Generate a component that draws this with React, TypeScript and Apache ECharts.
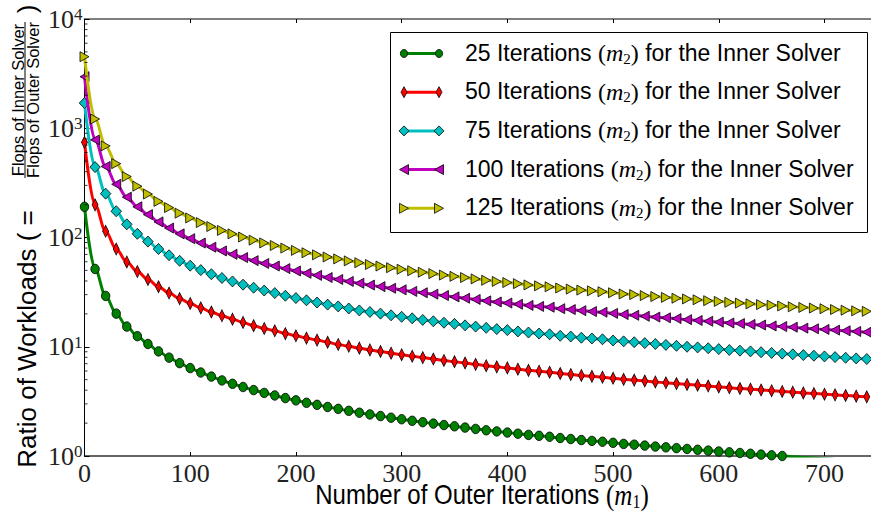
import React, { useEffect, useRef } from "react";
import * as echarts from "echarts";

const M1 = [0, 10, 20, 30, 40, 50, 60, 70, 80, 90, 100, 110, 120, 130, 140, 150, 160, 170, 180, 190, 200, 210, 220, 230, 240, 250, 260, 270, 280, 290, 300, 310, 320, 330, 340, 350, 360, 370, 380, 390, 400, 410, 420, 430, 440, 450, 460, 470, 480, 490, 500, 510, 520, 530, 540, 550, 560, 570, 580, 590, 600, 610, 620, 630, 640, 650, 660, 670, 680, 690, 700, 710, 720, 730, 740];

const S25 = [191, 51.5, 29.2, 20.1, 15.3, 12.5, 10.6, 9.07, 7.95, 7.08, 6.38, 5.81, 5.33, 4.92, 4.58, 4.28, 4.01, 3.78, 3.58, 3.39, 3.23, 3.07, 2.94, 2.81, 2.7, 2.59, 2.49, 2.4, 2.32, 2.24, 2.17, 2.1, 2.04, 1.98, 1.92, 1.87, 1.82, 1.77, 1.72, 1.68, 1.64, 1.6, 1.56, 1.53, 1.5, 1.46, 1.43, 1.4, 1.375, 1.35, 1.32, 1.29, 1.27, 1.245, 1.22, 1.2, 1.18, 1.16, 1.14, 1.12, 1.1, 1.08, 1.065, 1.048, 1.03, 1.015, 1.0, 0.985, 0.97, 0.957, 0.943, 0.93, 0.917, 0.904, 0.892];

const S50 = [743, 199, 114, 78.4, 59.7, 48.8, 41.3, 35.4, 31.0, 27.6, 24.9, 22.7, 20.8, 19.2, 17.9, 16.7, 15.6, 14.7, 14.0, 13.2, 12.6, 12.0, 11.5, 11.0, 10.5, 10.1, 9.71, 9.36, 9.05, 8.74, 8.46, 8.19, 7.96, 7.72, 7.49, 7.29, 7.1, 6.9, 6.71, 6.55, 6.4, 6.24, 6.08, 5.97, 5.85, 5.69, 5.58, 5.46, 5.36, 5.27, 5.15, 5.03, 4.95, 4.86, 4.76, 4.68, 4.6, 4.52, 4.45, 4.37, 4.29, 4.21, 4.15, 4.09, 4.02, 3.96, 3.9, 3.84, 3.78, 3.73, 3.68, 3.63, 3.58, 3.53, 3.48];

const S75 = [1700, 441, 252, 174, 132, 108, 91.7, 78.5, 68.8, 61.2, 55.2, 50.3, 46.1, 42.6, 39.6, 37.0, 34.7, 32.7, 31.0, 29.3, 27.9, 26.6, 25.4, 24.3, 23.4, 22.4, 21.5, 20.8, 20.1, 19.4, 18.8, 18.2, 17.6, 17.1, 16.6, 16.2, 15.7, 15.3, 14.9, 14.5, 14.2, 13.8, 13.5, 13.2, 13.0, 12.6, 12.4, 12.1, 11.9, 11.7, 11.4, 11.2, 11.0, 10.8, 10.6, 10.4, 10.2, 10.0, 9.86, 9.69, 9.52, 9.34, 9.21, 9.07, 8.91, 8.78, 8.65, 8.52, 8.39, 8.28, 8.16, 8.04, 7.93, 7.82, 7.72];

const S100 = [2965, 783, 447, 307, 234, 191, 162, 139, 122, 108, 97.6, 88.9, 81.5, 75.3, 70.1, 65.5, 61.4, 57.8, 54.8, 51.9, 49.4, 47.0, 45.0, 43.0, 41.3, 39.6, 38.1, 36.7, 35.5, 34.3, 33.2, 32.1, 31.2, 30.3, 29.4, 28.6, 27.8, 27.1, 26.3, 25.7, 25.1, 24.5, 23.9, 23.4, 23.0, 22.3, 21.9, 21.4, 21.0, 20.7, 20.2, 19.7, 19.4, 19.0, 18.7, 18.4, 18.1, 17.7, 17.4, 17.1, 16.8, 16.5, 16.3, 16.0, 15.8, 15.5, 15.3, 15.1, 14.8, 14.6, 14.4, 14.2, 14.0, 13.8, 13.6];

const S125 = [4518, 1215, 689, 474, 361, 295, 250, 214, 188, 167, 151, 137, 126, 116, 108, 101, 94.6, 89.2, 84.5, 80.0, 76.2, 72.5, 69.4, 66.3, 63.7, 61.1, 58.8, 56.6, 54.8, 52.9, 51.2, 49.6, 48.1, 46.7, 45.3, 44.1, 43.0, 41.8, 40.6, 39.6, 38.7, 37.8, 36.8, 36.1, 35.4, 34.5, 33.7, 33.0, 32.5, 31.9, 31.2, 30.4, 30.0, 29.4, 28.8, 28.3, 27.8, 27.4, 26.9, 26.4, 26.0, 25.5, 25.1, 24.7, 24.3, 24.0, 23.6, 23.2, 22.9, 22.6, 22.3, 21.9, 21.6, 21.3, 21.1];

const INNER = ["25", "50", "75", "100", "125"];
const SERIES_VALUES = [S25, S50, S75, S100, S125];
const COLORS = ["#008000", "#ff0000", "#00bfbf", "#bf00bf", "#bfbf00"];
const X_TICKS = [0, 100, 200, 300, 400, 500, 600, 700];
const Y_DECADES = [1, 10, 100, 1000, 10000];

const ELLIPSE = "path://M0 -10 A10 10 0 1 1 0 10 A10 10 0 1 1 0 -10 Z";
const MARKERS = [
  { symbol: ELLIPSE, size: [8.5, 9.5], rotate: 0 },
  { symbol: "diamond", size: [6, 12], rotate: 0 },
  { symbol: "diamond", size: [10.5, 11], rotate: 0 },
  { symbol: "triangle", size: [10, 9], rotate: 90 },
  { symbol: "triangle", size: [10, 9], rotate: -90 },
];

const SANS = "'Liberation Sans', Arial, Helvetica, sans-serif";
const SERIF = "'Liberation Serif', 'DejaVu Serif', serif";

function legendMarker(i: number, x: number, y: number, color: string): any {
  const style = { fill: color, stroke: "#000", lineWidth: 0.8 };
  if (i === 0) return { type: "ellipse", shape: { cx: x, cy: y, rx: 3.6, ry: 4 }, style, z: 102 };
  let pts: number[][];
  if (i === 1) pts = [[x, y - 5.5], [x + 3, y], [x, y + 5.5], [x - 3, y]];
  else if (i === 2) pts = [[x, y - 5], [x + 5, y], [x, y + 5], [x - 5, y]];
  else if (i === 3) pts = [[x - 4.5, y], [x + 4.5, y - 5], [x + 4.5, y + 5]];
  else pts = [[x + 4.5, y], [x - 4.5, y - 5], [x - 4.5, y + 5]];
  return { type: "polygon", shape: { points: pts }, style, z: 102 };
}

function rotText(text: string, x: number, y: number, size: number): any {
  return {
    type: "text",
    x,
    y,
    rotation: Math.PI / 2,
    z: 50,
    style: {
      text: `{a|${text}}`,
      align: "center",
      verticalAlign: "middle",
      rich: { a: { fontFamily: SANS, fontSize: size, fill: "#000", lineHeight: size } },
    },
  };
}

export default function App() {
  const ref = useRef<HTMLDivElement>(null);
  useEffect(() => {
    document.body.style.margin = "0";
    if (!ref.current) return;
    const chart = echarts.init(ref.current, undefined, { renderer: "svg" });

    const minorTicks: number[][] = [];
    for (let k = 0; k < 4; k++) {
      for (let m = 2; m <= 9; m++) minorTicks.push([0, m * Math.pow(10, k)]);
    }

    const series: any[] = SERIES_VALUES.map((vals, i) => ({
      type: "line",
      name: `${INNER[i]} Iterations (m2) for the Inner Solver`,
      data: M1.map((x, j) => [x, vals[j]]),
      symbol: MARKERS[i].symbol,
      symbolSize: MARKERS[i].size,
      symbolRotate: MARKERS[i].rotate,
      showAllSymbol: true,
      smooth: 0.35,
      smoothMonotone: "x",
      clip: true,
      lineStyle: { color: COLORS[i], width: 3 },
      itemStyle: { color: COLORS[i], borderColor: "#000", borderWidth: 0.8 },
      z: 2 + i,
      silent: true,
    }));
    series.push({
      type: "scatter",
      data: minorTicks,
      symbol: "rect",
      symbolSize: [3, 1],
      symbolOffset: [1.5, 0],
      itemStyle: { color: "#000" },
      clip: false,
      silent: true,
      z: 20,
    });

    const legendY0 = 53.5;
    const legendStep = 38.7;
    const legendEls: any[] = [
      {
        type: "rect",
        shape: { x: 390.5, y: 32.5, width: 477, height: 200 },
        style: { fill: "#fff", stroke: "#000", lineWidth: 1 },
        z: 100,
      },
    ];
    INNER.forEach((m2, i) => {
      const yy = legendY0 + i * legendStep;
      legendEls.push({
        type: "line",
        shape: { x1: 404, y1: yy, x2: 439, y2: yy },
        style: { stroke: COLORS[i], lineWidth: 3 },
        z: 101,
      });
      legendEls.push(legendMarker(i, 404, yy, COLORS[i]));
      legendEls.push(legendMarker(i, 439, yy, COLORS[i]));
      legendEls.push({
        type: "text",
        x: 465,
        y: yy,
        z: 103,
        style: {
          text: `{t|${m2} Iterations }{p|(}{m|m}{s|2}{p|)}{t| for the Inner Solver}`,
          verticalAlign: "middle",
          align: "left",
          rich: {
            t: { fontFamily: SANS, fontSize: 23, fill: "#000", lineHeight: 25, verticalAlign: "top" },
            p: { fontFamily: SERIF, fontSize: 24, fill: "#000", lineHeight: 25, verticalAlign: "top" },
            m: { fontFamily: SERIF, fontStyle: "italic", fontSize: 24, fill: "#000", lineHeight: 25, verticalAlign: "top" },
            s: { fontFamily: SERIF, fontSize: 15, fill: "#000", lineHeight: 15, verticalAlign: "bottom", padding: [11, 0, 0, 0] },
          },
        },
      });
    });

    const graphics: any[] = [
      ...legendEls,
      {
        type: "text",
        x: 482,
        y: 496,
        scaleY: 1.15,
        z: 50,
        style: {
          text: "{t|Number of Outer Iterations }{p|(}{m|m}{s|1}{p|)}",
          align: "center",
          verticalAlign: "middle",
          rich: {
            t: { fontFamily: SANS, fontSize: 24, fill: "#000", lineHeight: 26, verticalAlign: "top" },
            p: { fontFamily: SERIF, fontSize: 25, fill: "#000", lineHeight: 26, verticalAlign: "top" },
            m: { fontFamily: SERIF, fontStyle: "italic", fontSize: 25, fill: "#000", lineHeight: 26, verticalAlign: "top" },
            s: { fontFamily: SERIF, fontSize: 16, fill: "#000", lineHeight: 16, verticalAlign: "bottom", padding: [11, 0, 0, 0] },
          },
        },
      },
      rotText("Ratio of Workloads ( =", 27, 339, 26),
      rotText("Flops of Inner Solver", 17.5, 100, 16.5),
      rotText("Flops of Outer Solver", 32.5, 100, 16.5),
      {
        type: "line",
        shape: { x1: 25, y1: 22, x2: 25, y2: 178 },
        style: { stroke: "#000", lineWidth: 1 },
        z: 50,
      },
      rotText(")", 27, 9, 26),
    ];

    const option: any = {
      animation: false,
      backgroundColor: "#fff",
      grid: { left: 84.5, right: 0, top: 19, bottom: 61, containLabel: false },
      xAxis: [
        {
          type: "value",
          min: 0,
          max: 744,
          interval: 100,
          position: "bottom",
          axisLine: { show: true, lineStyle: { color: "#333", width: 1.5 } },
          axisTick: { show: true, inside: true, length: 4, lineStyle: { color: "#000" } },
          splitLine: { show: false },
          axisLabel: {
            showMaxLabel: false,
            margin: 4,
            fontFamily: SERIF,
            fontSize: 26,
            color: "#222",
            formatter: (v: number) => (X_TICKS.indexOf(v) >= 0 ? String(v) : ""),
          },
        },
        {
          type: "value",
          min: 0,
          max: 744,
          interval: 100,
          position: "top",
          axisLine: { show: true, lineStyle: { color: "#555", width: 1.5 } },
          axisTick: { show: true, inside: true, length: 4, lineStyle: { color: "#000" } },
          splitLine: { show: false },
          axisLabel: { show: false },
        },
      ],
      yAxis: {
        type: "log",
        logBase: 10,
        min: 1,
        max: 10000,
        axisLine: { show: true, lineStyle: { color: "#000", width: 1 } },
        axisTick: { show: true, inside: true, length: 5, lineStyle: { color: "#000" } },
        splitLine: { show: false },
        axisLabel: {
          margin: 2,
          formatter: (v: number) => (Y_DECADES.indexOf(v) >= 0 ? `{b|10}{s|${Math.round(Math.log10(v))}}` : ""),
          rich: {
            b: { fontFamily: SERIF, fontSize: 26, color: "#222", lineHeight: 26, verticalAlign: "bottom" },
            s: { fontFamily: SERIF, fontSize: 17, color: "#222", lineHeight: 17, verticalAlign: "top", padding: [0, 0, 12, 0] },
          },
        },
      },
      series,
      graphic: graphics,
    };
    chart.setOption(option);
    return () => chart.dispose();
  }, []);
  return <div ref={ref} style={{ width: 871, height: 517 }} />;
}
